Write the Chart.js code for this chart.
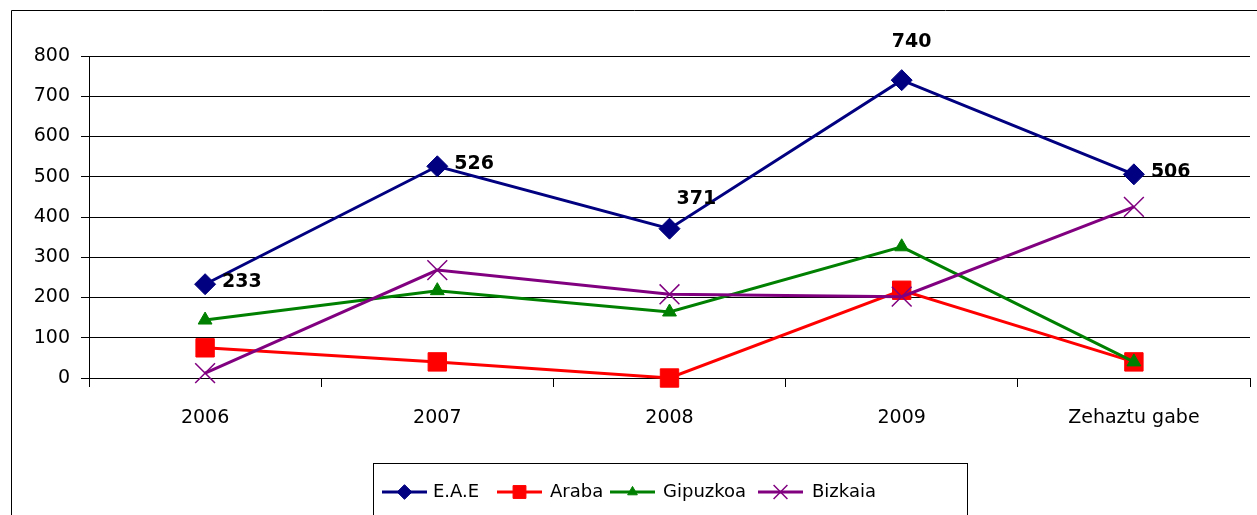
<!DOCTYPE html>
<html>
<head>
<meta charset="utf-8">
<script src="https://cdn.jsdelivr.net/npm/chart.js@4/dist/chart.umd.min.js"></script>
<style>
html, body { margin: 0; padding: 0; background: #fff; }
#wrap { position: relative; width: 1257px; height: 515px; }
</style>
</head>
<body>
<div id="wrap"><canvas id="chart"></canvas></div>
<script>
// Categories and series
const years = ["2006", "2007", "2008", "2009", "Zehaztu gabe"];
const eae = [233, 526, 371, 740, 506];
const araba = [75, 40, 0, 218, 40];
const gipuzkoa = [144, 217, 164, 326, 40];
const bizkaia = [12, 268, 208, 202, 425];
const seriesNames = ["E.A.E", "Araba", "Gipuzkoa", "Bizkaia"];

const FONT = "'DejaVu Sans', Verdana, sans-serif";

// where each E.A.E value label sits relative to its point
const labelOffsets = [[17, -2], [17, -2], [7, -30], [-10, -38], [17, -2]];

// legend layout: sample line start/end and text start
const legendItems = [
    { x0: 382, x1: 427, tx: 433 },
    { x0: 497, x1: 542, tx: 550 },
    { x0: 610, x1: 655, tx: 663 },
    { x0: 758, x1: 803, tx: 812 },
];

const framePlugin = {
    id: "frame",
    afterDraw(chart) {
        const ctx = chart.ctx;
        ctx.save();

        // outer frame (only left and top edges are visible)
        ctx.strokeStyle = "#000";
        ctx.lineWidth = 1;
        ctx.beginPath();
        ctx.moveTo(11.5, 515);
        ctx.lineTo(11.5, 10.5);
        ctx.lineTo(1257, 10.5);
        ctx.stroke();

        // E.A.E value labels
        const meta = chart.getDatasetMeta(0);
        ctx.font = "bold 19px " + FONT;
        ctx.fillStyle = "#000";
        ctx.textAlign = "left";
        ctx.textBaseline = "middle";
        meta.data.forEach((pt, i) => {
            const [dx, dy] = labelOffsets[i];
            ctx.fillText(String(eae[i]), pt.x + dx, pt.y + dy);
        });

        // legend box
        ctx.strokeStyle = "#000";
        ctx.lineWidth = 1;
        ctx.strokeRect(373.5, 463.5, 594, 60);
        ctx.font = "18px " + FONT;
        const ly = 492;
        chart.data.datasets.forEach((ds, i) => {
            const it = legendItems[i];
            ctx.strokeStyle = ds.borderColor;
            ctx.lineWidth = ds.borderWidth;
            ctx.beginPath();
            ctx.moveTo(it.x0, ly);
            ctx.lineTo(it.x1, ly);
            ctx.stroke();
            ctx.fillStyle = ds.pointBackgroundColor;
            ctx.strokeStyle = ds.pointBorderColor;
            ctx.lineWidth = ds.pointBorderWidth;
            Chart.helpers.drawPoint(ctx, {
                pointStyle: ds.pointStyle,
                radius: ds.pointRadius * 0.7,
                rotation: 0,
                borderWidth: ds.pointBorderWidth,
            }, (it.x0 + it.x1) / 2, ly);
            ctx.fillStyle = "#000";
            ctx.fillText(ds.label, it.tx, ly);
        });

        ctx.restore();
    },
};

function makeSeries(label, data, color, style, radius, order) {
    return {
        label,
        data,
        borderColor: color,
        backgroundColor: color,
        borderWidth: 3,
        pointStyle: style,
        pointRadius: radius,
        pointHoverRadius: radius,
        pointBackgroundColor: color,
        pointBorderColor: color,
        pointBorderWidth: style === "crossRot" ? 1.5 : 1,
        tension: 0,
        clip: false,
        order,
    };
}

new Chart(document.getElementById("chart"), {
    type: "line",
    data: {
        labels: years,
        datasets: [
            makeSeries(seriesNames[0], eae, "#000080", "rectRot", 10.5, 4),
            makeSeries(seriesNames[1], araba, "#ff0000", "rect", 13, 3),
            makeSeries(seriesNames[2], gipuzkoa, "#008000", "triangle", 8, 2),
            makeSeries(seriesNames[3], bizkaia, "#800080", "crossRot", 14, 1),
        ],
    },
    options: {
        responsive: true,
        maintainAspectRatio: false,
        animation: false,
        layout: {
            autoPadding: false,
            padding: { left: 0, top: 56, right: 7, bottom: 77 },
        },
        plugins: {
            legend: { display: false },
            tooltip: { enabled: false },
        },
        scales: {
            x: {
                offset: true,
                afterFit: (scale) => {
                    scale.height = 60;
                    scale.paddingLeft = 0;
                    scale.paddingRight = 0;
                },
                grid: {
                    offset: true,
                    drawOnChartArea: false,
                    drawTicks: true,
                    tickLength: 9,
                    color: "#000",
                },
                border: { color: "#000", width: 1 },
                ticks: {
                    color: "#000",
                    font: { family: FONT, size: 19 },
                    padding: 20,
                    maxRotation: 0,
                    autoSkip: false,
                },
            },
            y: {
                min: 0,
                max: 800,
                afterFit: (scale) => {
                    scale.width = 89;
                    scale.paddingTop = 0;
                    scale.paddingBottom = 0;
                },
                grid: { color: "#000", tickLength: 8, lineWidth: 1 },
                border: { color: "#000", width: 1 },
                ticks: {
                    stepSize: 100,
                    color: "#000",
                    font: { family: FONT, size: 19 },
                    padding: 11,
                },
            },
        },
    },
    plugins: [framePlugin],
});
</script>
</body>
</html>
